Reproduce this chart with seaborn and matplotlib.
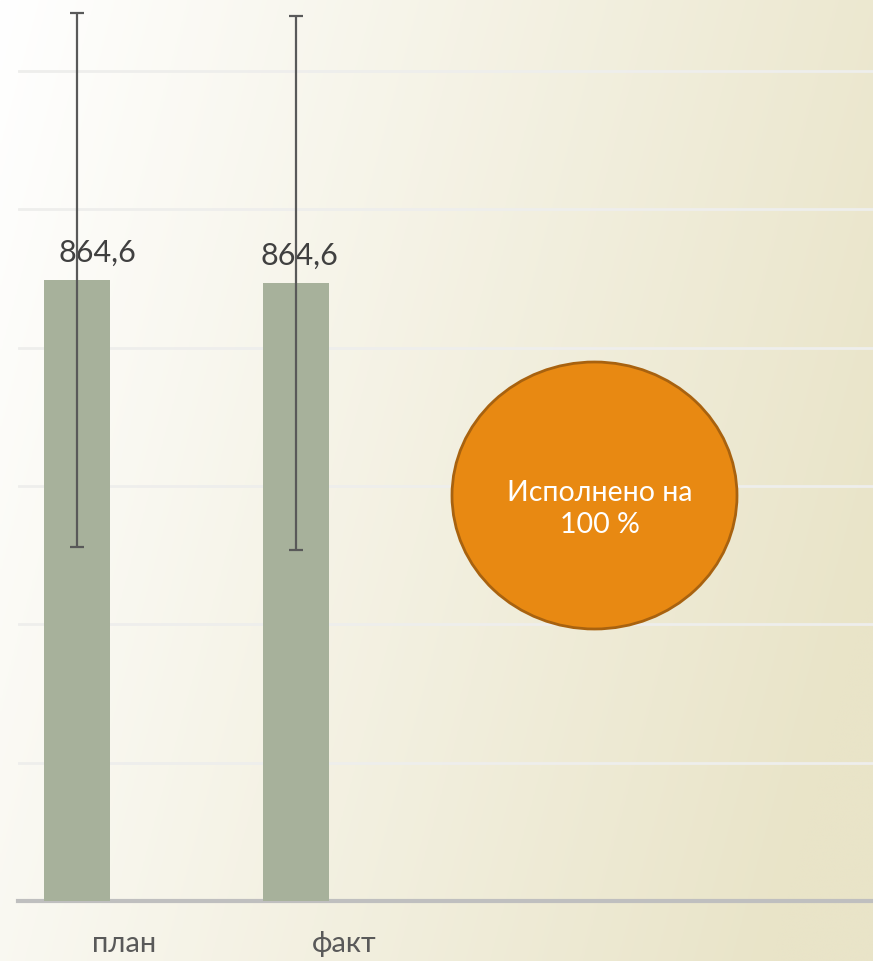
import numpy as np
import pandas as pd
import matplotlib
matplotlib.use("Agg")
import matplotlib.pyplot as plt
from matplotlib.patches import Ellipse
from matplotlib.colors import to_rgb
import seaborn as sns

# ---- data ----
categories = ["план", "факт"]
values = [864.6, 860.4]
errors = [372.0, 372.0]
value_labels = ["864,6", "864,6"]
note_text = "Исполнено на\n100 %"

sns.set_theme(style="white")
plt.rcParams["font.family"] = ["Lato", "DejaVu Sans"]

W, H = 873, 962
fig = plt.figure(figsize=(W / 100, H / 100), dpi=100)

# background gradient
bg = fig.add_axes([0, 0, 1, 1], zorder=-10)
xx, yy = np.meshgrid(np.linspace(0, 1, 300), np.linspace(0, 1, 300))
t = np.clip(0.85 * xx + 0.25 * yy, 0, 1)
c0 = np.array(to_rgb("#FFFFFF"))
c1 = np.array(to_rgb("#E9E4C8"))
img = c0[None, None, :] * (1 - t[..., None]) + c1[None, None, :] * t[..., None]
bg.imshow(img, aspect="auto", extent=[0, 1, 0, 1], origin="upper")
bg.set_axis_off()

# main axes
ax = fig.add_axes([18 / W, 60 / H, 855 / W, 902 / H])
ax.set_facecolor("none")
df = pd.DataFrame({"cat": categories, "val": values})
sns.barplot(data=df, x="cat", y="val", color="#A7B19B", saturation=1,
            width=0.301, ax=ax, zorder=3, errorbar=None, linewidth=0)
ax.errorbar([0, 1], values, yerr=errors, fmt="none", ecolor="#595959",
            elinewidth=1.6, capsize=5, capthick=1.6, zorder=5)

ymax = 902 / (621 / 864.6)
ax.set_ylim(0, ymax)
ax.set_xlim(-0.269, 3.635)
ax.set_yticks(np.arange(0, ymax, 192.6))
ax.yaxis.grid(True, color="#EEEEEC", linewidth=2, zorder=0)
ax.set_axisbelow(True)
ax.tick_params(axis="y", left=False, labelleft=False)
ax.set_xticks([0.215, 1.22])
ax.set_xticklabels(categories, fontsize=21, color="#595959")
ax.tick_params(axis="x", bottom=False, pad=15)
ax.set_xlabel("")
ax.set_ylabel("")
for s in ["top", "right", "left"]:
    ax.spines[s].set_visible(False)
ax.spines["bottom"].set_color("#BFBFBF")
ax.spines["bottom"].set_linewidth(3)

for i, (v, lab) in enumerate(zip(values, value_labels)):
    off = 0.096 if i == 0 else 0.014
    ax.annotate(lab, (i + off, v), xytext=(0, 10), textcoords="offset points",
                ha="center", va="bottom", fontsize=22, color="#404040",
                zorder=4)

# ellipse callout
e = Ellipse((594.5 / W, 1 - 496.5 / H), 285 / W, 267 / H,
            transform=fig.transFigure, facecolor="#E88912",
            edgecolor="#A8620F", linewidth=2, zorder=10)
fig.patches.append(e)
fig.text(600 / W, 1 - 509 / H, note_text, ha="center", va="center",
         fontsize=20.5, color="white", linespacing=1.25, zorder=11)

fig.savefig("out.png", dpi=100)
